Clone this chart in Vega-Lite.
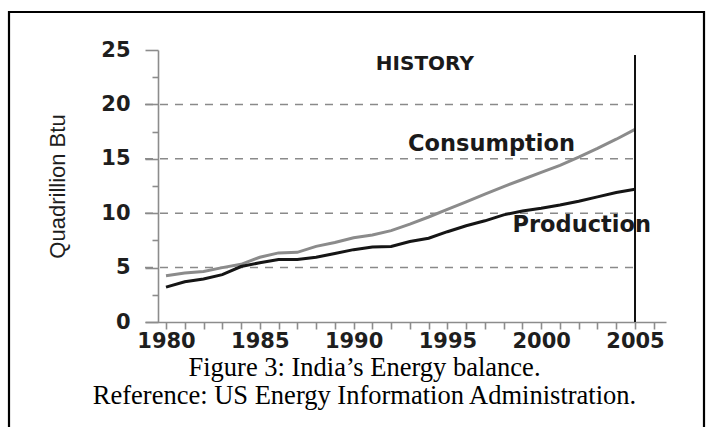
{
  "$schema": "https://vega.github.io/schema/vega-lite/v6.json",
  "width": 695,
  "height": 415,
  "autosize": {"type": "none"},
  "padding": {"left": 9, "top": 12, "right": 8, "bottom": 0},
  "background": "white",
  "config": {
    "view": {"stroke": "#000000", "strokeWidth": 2.2, "strokeDash": [1110, 695, 415]},
    "axis": {
      "grid": false,
      "labelOverlap": false,
      "domainColor": "#8c8c8c",
      "domainWidth": 1.6,
      "tickColor": "#8c8c8c",
      "tickWidth": 1.6,
      "labelFont": "DejaVu Sans",
      "labelFontWeight": "bold",
      "labelFontSize": 21,
      "labelColor": "#1e1e1e"
    }
  },
  "title": {
    "text": "Figure 3: India’s Energy balance.",
    "subtitle": "Reference: US Energy Information Administration.",
    "orient": "bottom",
    "anchor": "middle",
    "frame": "group",
    "offset": -72,
    "dx": 8,
    "font": "Liberation Serif",
    "fontSize": 26.5,
    "fontWeight": "normal",
    "color": "#000000",
    "subtitleFont": "Liberation Serif",
    "subtitleFontSize": 26.5,
    "subtitleColor": "#000000",
    "subtitlePadding": 1.5
  },
  "datasets": {
    "energy": [
      {"year": 1980, "value": 4.25, "series": "Consumption"},
      {"year": 1981, "value": 4.5, "series": "Consumption"},
      {"year": 1982, "value": 4.65, "series": "Consumption"},
      {"year": 1983, "value": 5.0, "series": "Consumption"},
      {"year": 1984, "value": 5.3, "series": "Consumption"},
      {"year": 1985, "value": 5.95, "series": "Consumption"},
      {"year": 1986, "value": 6.35, "series": "Consumption"},
      {"year": 1987, "value": 6.4, "series": "Consumption"},
      {"year": 1988, "value": 6.95, "series": "Consumption"},
      {"year": 1989, "value": 7.3, "series": "Consumption"},
      {"year": 1990, "value": 7.75, "series": "Consumption"},
      {"year": 1991, "value": 8.0, "series": "Consumption"},
      {"year": 1992, "value": 8.4, "series": "Consumption"},
      {"year": 1993, "value": 9.0, "series": "Consumption"},
      {"year": 1994, "value": 9.65, "series": "Consumption"},
      {"year": 1995, "value": 10.35, "series": "Consumption"},
      {"year": 1996, "value": 11.05, "series": "Consumption"},
      {"year": 1997, "value": 11.75, "series": "Consumption"},
      {"year": 1998, "value": 12.45, "series": "Consumption"},
      {"year": 1999, "value": 13.1, "series": "Consumption"},
      {"year": 2000, "value": 13.75, "series": "Consumption"},
      {"year": 2001, "value": 14.4, "series": "Consumption"},
      {"year": 2002, "value": 15.15, "series": "Consumption"},
      {"year": 2003, "value": 15.95, "series": "Consumption"},
      {"year": 2004, "value": 16.8, "series": "Consumption"},
      {"year": 2005, "value": 17.7, "series": "Consumption"},
      {"year": 1980, "value": 3.2, "series": "Production"},
      {"year": 1981, "value": 3.7, "series": "Production"},
      {"year": 1982, "value": 3.95, "series": "Production"},
      {"year": 1983, "value": 4.35, "series": "Production"},
      {"year": 1984, "value": 5.1, "series": "Production"},
      {"year": 1985, "value": 5.45, "series": "Production"},
      {"year": 1986, "value": 5.75, "series": "Production"},
      {"year": 1987, "value": 5.75, "series": "Production"},
      {"year": 1988, "value": 5.95, "series": "Production"},
      {"year": 1989, "value": 6.3, "series": "Production"},
      {"year": 1990, "value": 6.65, "series": "Production"},
      {"year": 1991, "value": 6.9, "series": "Production"},
      {"year": 1992, "value": 6.95, "series": "Production"},
      {"year": 1993, "value": 7.4, "series": "Production"},
      {"year": 1994, "value": 7.7, "series": "Production"},
      {"year": 1995, "value": 8.3, "series": "Production"},
      {"year": 1996, "value": 8.85, "series": "Production"},
      {"year": 1997, "value": 9.3, "series": "Production"},
      {"year": 1998, "value": 9.85, "series": "Production"},
      {"year": 1999, "value": 10.2, "series": "Production"},
      {"year": 2000, "value": 10.45, "series": "Production"},
      {"year": 2001, "value": 10.75, "series": "Production"},
      {"year": 2002, "value": 11.1, "series": "Production"},
      {"year": 2003, "value": 11.5, "series": "Production"},
      {"year": 2004, "value": 11.9, "series": "Production"},
      {"year": 2005, "value": 12.2, "series": "Production"}
    ],
    "gridlines": [
      {"value": 5},
      {"value": 10},
      {"value": 15},
      {"value": 20}
    ],
    "one": [{}]
  },
  "layer": [
    {
      "data": {"name": "gridlines"},
      "mark": {"type": "rule", "color": "#8a8a8a", "strokeWidth": 1.5, "strokeDash": [8, 7]},
      "encoding": {
        "y": {"field": "value", "type": "quantitative"},
        "x": {"datum": 1978.881},
        "x2": {"datum": 2005}
      }
    },
    {
      "data": {"name": "energy"},
      "mark": {"type": "line", "strokeWidth": 3},
      "encoding": {
        "x": {
          "field": "year",
          "type": "quantitative",
          "scale": {"domain": [1978.881, 2006.652], "range": [136, 657], "nice": false, "zero": false},
          "axis": {
            "values": [1980, 1981, 1982, 1983, 1984, 1985, 1986, 1987, 1988, 1989, 1990, 1991, 1992, 1993, 1994, 1995, 1996, 1997, 1998, 1999, 2000, 2001, 2002, 2003, 2004, 2005, 2006],
            "tickCount": 40,
            "tickSize": 7,
            "labelPadding": 1,
            "labelExpr": "datum.value % 5 === 0 ? datum.value : ''",
            "labelOverlap": false,
            "labelFlush": false,
            "offset": -105,
            "title": null
          }
        },
        "y": {
          "field": "value",
          "type": "quantitative",
          "scale": {"domain": [0, 25], "range": [310, 38], "nice": false, "zero": false},
          "axis": {
            "values": [0, 2.5, 5, 7.5, 10, 12.5, 15, 17.5, 20, 22.5, 25],
            "tickCount": 20,
            "tickSize": {"condition": {"test": "datum.value % 5 === 0", "value": 13}, "value": 6},
            "labelExpr": "datum.value % 5 === 0 ? datum.value : ''",
            "labelPadding": 15,
            "labelOverlap": false,
            "offset": -149,
            "title": "Quadrillion Btu",
            "titleFont": "Liberation Sans",
            "titleFontSize": 22,
            "titleFontWeight": "normal",
            "titleColor": "#1e1e1e",
            "titleX": -89
          }
        },
        "color": {
          "field": "series",
          "type": "nominal",
          "scale": {"domain": ["Consumption", "Production"], "range": ["#8b8b8b", "#151515"]},
          "legend": null
        }
      }
    },
    {
      "data": {"name": "one"},
      "mark": {"type": "text", "font": "DejaVu Sans", "fontWeight": "bold", "fontSize": 20, "color": "#1a1a1a", "align": "center", "baseline": "middle"},
      "encoding": {
        "x": {"datum": 1993.8},
        "y": {"datum": 23.7},
        "text": {"value": "HISTORY"}
      }
    },
    {
      "data": {"name": "one"},
      "mark": {"type": "text", "font": "DejaVu Sans", "fontWeight": "bold", "fontSize": 22.5, "color": "#1a1a1a", "align": "center", "baseline": "middle"},
      "encoding": {
        "x": {"datum": 1997.35},
        "y": {"datum": 16.36},
        "text": {"value": "Consumption"}
      }
    },
    {
      "data": {"name": "one"},
      "mark": {"type": "text", "font": "DejaVu Sans", "fontWeight": "bold", "fontSize": 22.5, "color": "#1a1a1a", "align": "center", "baseline": "middle"},
      "encoding": {
        "x": {"datum": 2002.16},
        "y": {"datum": 8.92},
        "text": {"value": "Production"}
      }
    },
    {
      "data": {"name": "one"},
      "mark": {"type": "rule", "color": "#111111", "strokeWidth": 2},
      "encoding": {
        "x": {"datum": 2005},
        "y": {"datum": 0},
        "y2": {"datum": 24.55}
      }
    }
  ]
}
